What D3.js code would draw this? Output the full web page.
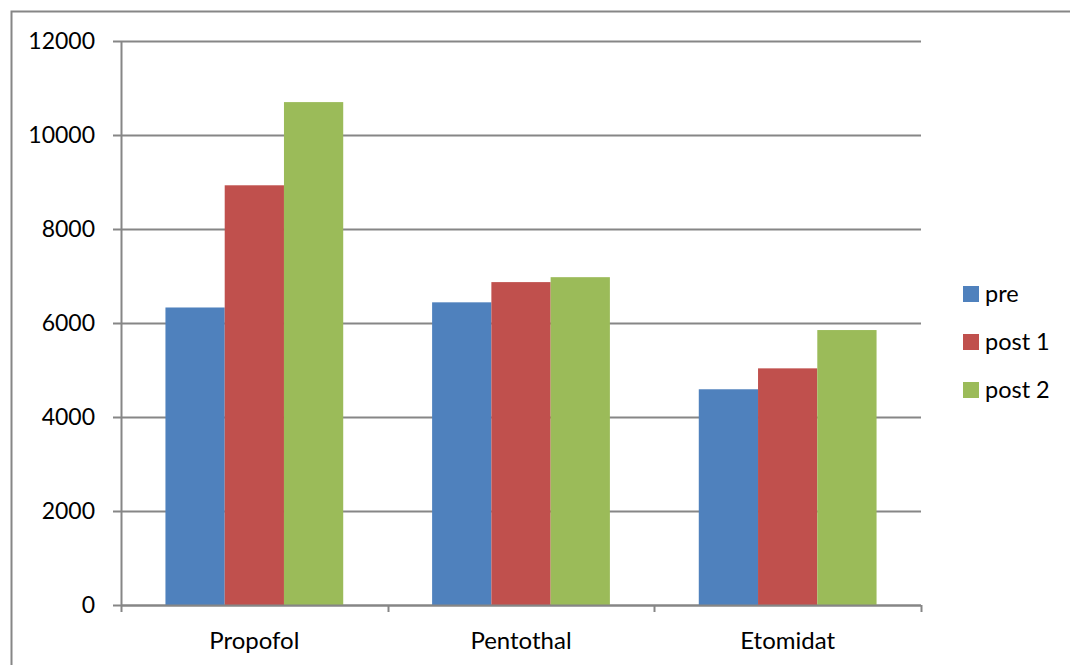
<!DOCTYPE html>
<html>
<head>
<meta charset="utf-8">
<script src="https://cdn.jsdelivr.net/npm/d3@7"></script>
<style>
  body { margin: 0; background: #fff; }
  svg text { font-family: Lato, "Open Sans", sans-serif; fill: #000; }
</style>
</head>
<body>
<svg width="1070" height="665"></svg>
<script>
var categories = ["Propofol", "Pentothal", "Etomidat"];
var seriesNames = ["pre", "post 1", "post 2"];
var pre = [6330, 6440, 4590];
var post1 = [8930, 6870, 5035];
var post2 = [10700, 6975, 5850];
var yTicks = [0, 2000, 4000, 6000, 8000, 10000, 12000];
var colors = ["#4f81bd", "#c0504d", "#9bbb59"];

var series = [pre, post1, post2];
var svg = d3.select("svg");
var margin = {top: 41, left: 121, right: 149, bottom: 60};
var width = 1070 - margin.left - margin.right;
var height = 665 - margin.top - margin.bottom;

// outer frame (only left and top edges show)
svg.append("path")
    .attr("d", "M11.5,665 V11.5 H1070")
    .attr("fill", "none").attr("stroke", "#868686").attr("stroke-width", 2);

var g = svg.append("g").attr("transform", "translate(" + margin.left + "," + margin.top + ")");

var x0 = d3.scaleBand().domain(categories).range([0, width]).paddingInner(0).paddingOuter(0);
var x1 = d3.scaleBand().domain(seriesNames).range([0, x0.bandwidth() * 3 / 4.5]);
var y = d3.scaleLinear().domain([0, 12000]).range([height, 0]);

// gridlines
g.selectAll(".grid").data(yTicks).enter().append("line")
    .attr("x1", -8).attr("x2", width)
    .attr("y1", function (d) { return Math.round(y(d)) + 0.5; })
    .attr("y2", function (d) { return Math.round(y(d)) + 0.5; })
    .attr("stroke", "#868686").attr("stroke-width", 2);

// y labels
g.selectAll(".ylab").data(yTicks).enter().append("text")
    .attr("x", -26).attr("y", function (d) { return y(d); })
    .attr("dy", "0.36em").attr("text-anchor", "end")
    .style("font-size", "23px")
    .text(function (d) { return d; });

// bars
var groups = g.selectAll(".cat").data(categories).enter().append("g")
    .attr("transform", function (d) { return "translate(" + (x0(d) + x0.bandwidth() * 0.75 / 4.5) + ",0)"; });

groups.selectAll("rect").data(function (d, i) {
    return series.map(function (s, j) { return {name: seriesNames[j], value: s[i], c: colors[j]}; });
}).enter().append("rect")
    .attr("x", function (d) { return x1(d.name); })
    .attr("width", x1.bandwidth())
    .attr("y", function (d) { return y(d.value); })
    .attr("height", function (d) { return height - y(d.value); })
    .attr("fill", function (d) { return d.c; });

// axes lines
g.append("line").attr("x1", 0.5).attr("x2", 0.5).attr("y1", 0).attr("y2", height)
    .attr("stroke", "#868686").attr("stroke-width", 2);
g.append("line").attr("x1", 0).attr("x2", width).attr("y1", height + 0.5).attr("y2", height + 0.5)
    .attr("stroke", "#868686").attr("stroke-width", 2);

var xEdges = categories.map(function (c) { return x0(c); }).concat([width]);
g.selectAll(".xtick").data(xEdges).enter().append("line")
    .attr("x1", function (d) { return Math.round(d) + 0.5; })
    .attr("x2", function (d) { return Math.round(d) + 0.5; })
    .attr("y1", height).attr("y2", height + 7)
    .attr("stroke", "#868686").attr("stroke-width", 2);

g.selectAll(".xlab").data(categories).enter().append("text")
    .attr("x", function (d) { return x0(d) + x0.bandwidth() / 2; })
    .attr("y", height + 35).attr("dy", "0.36em")
    .attr("text-anchor", "middle").style("font-size", "24px")
    .text(function (d) { return d; });

// legend
var legend = svg.append("g").attr("transform", "translate(963,294)");
var items = legend.selectAll("g").data(seriesNames).enter().append("g")
    .attr("transform", function (d, i) { return "translate(0," + i * 48 + ")"; });
items.append("rect").attr("x", 0).attr("y", -8).attr("width", 16).attr("height", 16)
    .attr("fill", function (d, i) { return colors[i]; });
items.append("text").attr("x", 22).attr("y", 0).attr("dy", "0.36em")
    .style("font-size", "23.5px").text(function (d) { return d; });
</script>
</body>
</html>
